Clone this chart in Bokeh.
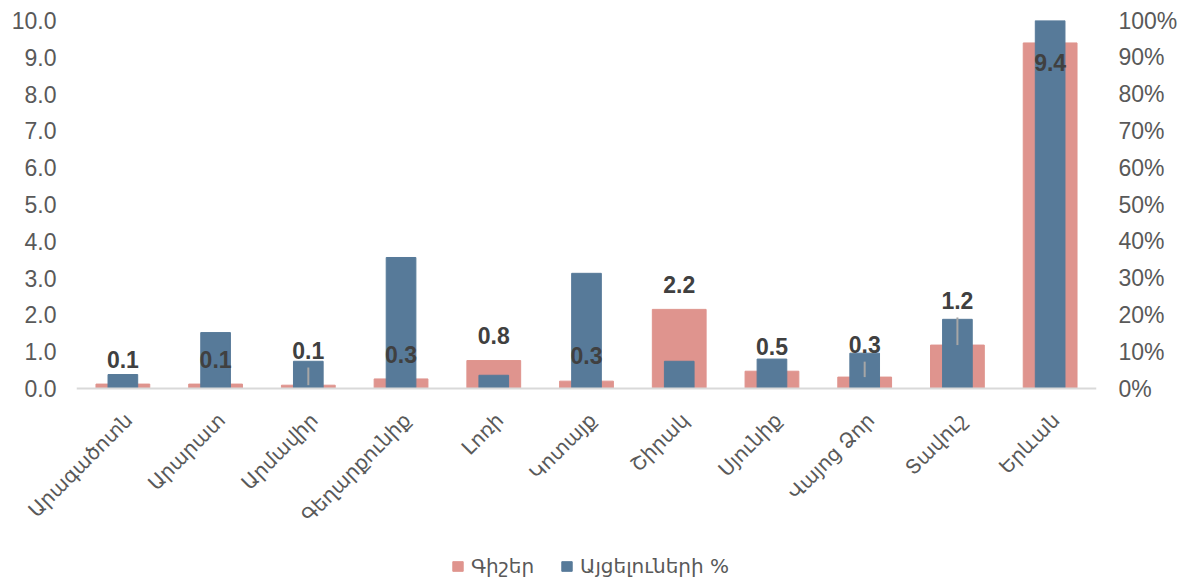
from math import pi
from bokeh.plotting import figure
from bokeh.models import (ColumnDataSource, Range1d, LinearAxis, FixedTicker,
                          PrintfTickFormatter, Legend, LegendItem, Span)
from bokeh.core.properties import value
from bokeh.embed import file_html
from bokeh.resources import INLINE

# ---- data ----
regions = ["Արագածոտն", "Արարատ", "Արմավիր", "Գեղարքունիք", "Լոռի", "Կոտայք",
           "Շիրակ", "Սյունիք", "Վայոց Ձոր", "Տավուշ", "Երևան"]
nights = [0.12, 0.12, 0.09, 0.26, 0.76, 0.20, 2.15, 0.47, 0.31, 1.18, 9.39]
visitors_pct = [3.8, 15.2, 7.4, 35.6, 3.6, 31.3, 7.4, 8.0, 9.6, 18.8, 100.0]
night_labels = ["0.1", "0.1", "0.1", "0.3", "0.8", "0.3", "2.2", "0.5", "0.3", "1.2", "9.4"]
label_pos = [0.79, 0.79, 1.03, 0.92, 1.44, 0.90, 2.82, 1.14, 1.19, 2.39, 8.86]
has_leader = [False, False, True, False, False, False, False, False, True, True, False]
left_ticks = [0, 1, 2, 3, 4, 5, 6, 7, 8, 9, 10]
right_ticks = [0, 10, 20, 30, 40, 50, 60, 70, 80, 90, 100]
series_names = ["Գիշեր", "Այցելուների %"]

PINK = "#df948e"
BLUE = "#577a99"
TICK_COLOR = "#595959"
LABEL_COLOR = "#404040"

# left scale 0..10 occupies the upper part of the frame; the lower part holds
# the slanted region names and the legend
Y_MIN = -5.163
src = ColumnDataSource(dict(region=regions, nights=nights, pct=visitors_pct,
                            lab=night_labels, lab_y=label_pos,
                            base=[0] * len(regions)))
lead_idx = [i for i, f in enumerate(has_leader) if f]
lead_src = ColumnDataSource(dict(
    region=[regions[i] for i in lead_idx],
    y0=[nights[i] for i in lead_idx],
    y1=[label_pos[i] - 0.46 for i in lead_idx]))

p = figure(x_range=regions, y_range=Range1d(Y_MIN, 10), width=1180, height=578,
           output_backend="svg", toolbar_location=None,
           min_border_left=76, min_border_right=83, min_border_top=20,
           min_border_bottom=0, outline_line_color=None)
p.extra_y_ranges = {"pct": Range1d(Y_MIN * 10, 100)}

r1 = p.vbar(x="region", top="nights", bottom=0, width=0.58, source=src, color=PINK)
r2 = p.vbar(x="region", top="pct", bottom=0, width=0.32, source=src, color=BLUE,
            y_range_name="pct")
p.add_layout(Span(location=0, dimension="width", line_color="#d9d9d9",
                  line_width=2))
p.segment(x0="region", x1="region", y0="y0", y1="y1", source=lead_src,
          line_color="#a6a6a6", line_width=2)
p.text(x="region", y="lab_y", text="lab", source=src, text_align="center",
       text_baseline="middle", text_font=value("Liberation Sans"),
       text_font_style="bold", text_font_size="23px", text_color=LABEL_COLOR)
# slanted category names (overlay level so the long first name is not cut)
p.text(x="region", y="base", text="region", source=src, angle=pi / 4,
       text_align="right", text_baseline="middle", x_offset=6, y_offset=28,
       text_font=value("DejaVu Sans"), text_font_size="20px",
       text_color=TICK_COLOR, level="overlay")

p.xgrid.visible = False
p.ygrid.visible = False
p.xaxis.visible = False

# left axis
ya = p.yaxis[0]
ya.ticker = FixedTicker(ticks=left_ticks)
ya.formatter = PrintfTickFormatter(format="%.1f")
ya.axis_line_color = None
ya.major_tick_line_color = None
ya.minor_tick_line_color = None
ya.major_tick_out = 0
ya.major_tick_in = 0
ya.minor_tick_out = 0
ya.major_label_text_font = "Liberation Sans"
ya.major_label_text_font_size = "23px"
ya.major_label_text_color = TICK_COLOR
ya.major_label_standoff = 20

# right axis
ra = LinearAxis(y_range_name="pct", ticker=FixedTicker(ticks=right_ticks),
                formatter=PrintfTickFormatter(format="%d%%"))
ra.axis_line_color = None
ra.major_tick_line_color = None
ra.minor_tick_line_color = None
ra.major_tick_out = 0
ra.major_tick_in = 0
ra.minor_tick_out = 0
ra.major_label_text_font = "Liberation Sans"
ra.major_label_text_font_size = "23px"
ra.major_label_text_color = TICK_COLOR
ra.major_label_standoff = 22
p.add_layout(ra, "right")

legend = Legend(items=[LegendItem(label=series_names[0], renderers=[r1]),
                       LegendItem(label=series_names[1], renderers=[r2])],
                location=(375, 0), orientation="horizontal",
                label_text_font="DejaVu Sans", label_text_font_size="20px",
                label_text_color=TICK_COLOR, glyph_width=13, glyph_height=12,
                label_standoff=7, spacing=26, padding=0, margin=0,
                border_line_color=None, background_fill_alpha=0)
p.add_layout(legend)

open("out.html", "w").write(file_html(p, INLINE))
